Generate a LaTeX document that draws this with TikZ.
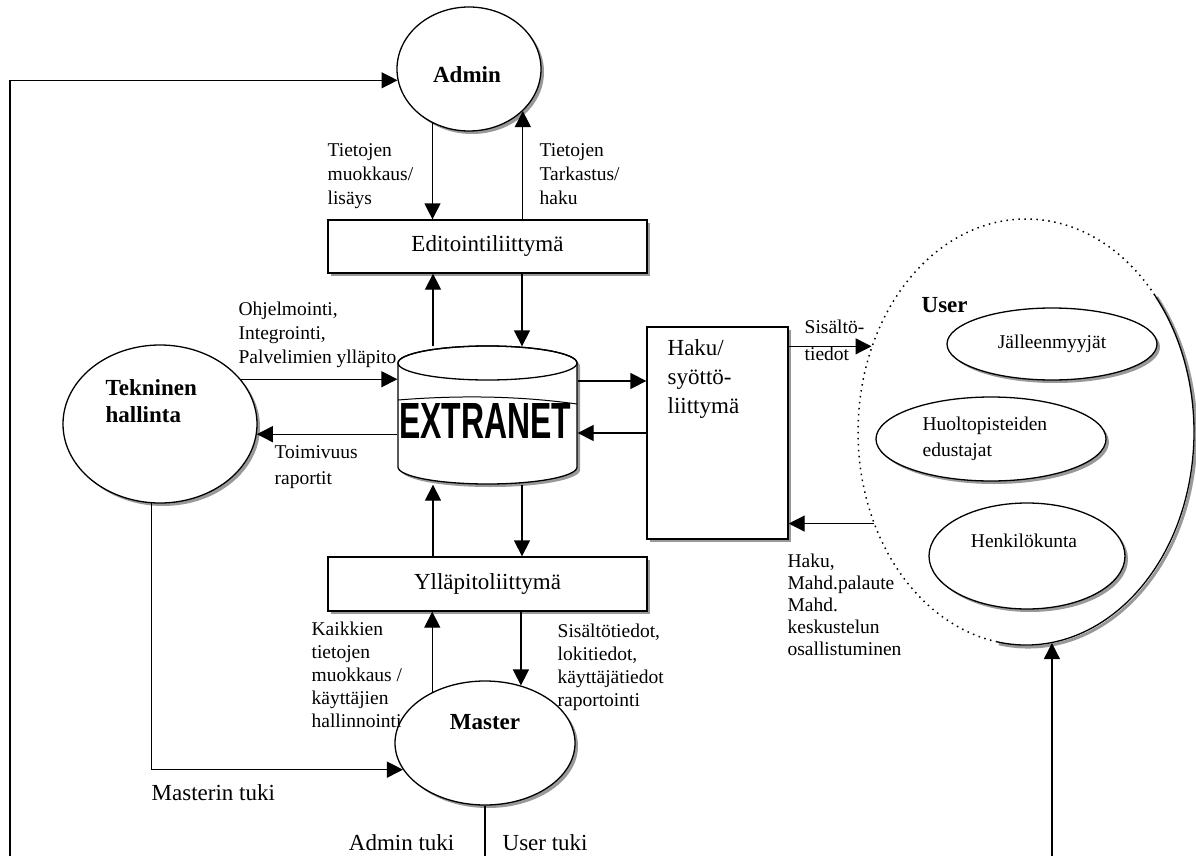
\documentclass[tikz,border=0pt]{standalone}
\usepackage{fontspec}
\setmainfont{Liberation Serif}
\newfontfamily\sansbold{Liberation Sans}
\usetikzlibrary{shapes.geometric,arrows.meta,shadows}
\begin{document}
\begin{tikzpicture}[x=1pt,y=1pt,
  line width=1.3pt,
  arr/.style={-{Triangle[length=16pt,width=16pt]}},
  shad/.style={drop shadow={shadow xshift=3pt,shadow yshift=-3pt,fill=black!40,opacity=1}},
  ell/.style={ellipse,draw,fill=white,shad,inner sep=0pt},
  boxx/.style={rectangle,draw,fill=white,shad,inner sep=0pt},
  lbl/.style={font=\fontsize{19.5}{24}\selectfont,align=left,inner sep=0pt,anchor=north west},
  big/.style={font=\fontsize{23}{28}\selectfont},
  bold/.style={font=\fontsize{23}{27}\selectfont\bfseries},
]
\useasboundingbox[fill=white] (0,0) rectangle (1196,-856);

% ---------- User group ----------
\node[ellipse,minimum width=336pt,minimum height=426pt,inner sep=0pt] (user) at (1026,-432) {};
\draw[black!40,line width=3pt] ([shift={(2,-2)}]user.center) ++(-100:168 and 213) arc[start angle=-100,end angle=40,x radius=168,y radius=213];
\draw (user.center) ++(-100:168 and 213) arc[start angle=-100,end angle=40,x radius=168,y radius=213];
\draw[line width=1.5pt,dash pattern=on 1.5pt off 4.5pt] (user.center) ++(40:168 and 213) arc[start angle=40,end angle=260,x radius=168,y radius=213];
\node[bold,anchor=west,inner sep=0pt] (usertxt) at (921,-305) {User};
\node[ell,minimum width=210pt,minimum height=72pt,font=\fontsize{19.5}{24}\selectfont] (jal) at (1052,-344) {Jälleenmyyjät};
\node[ell,minimum width=230pt,minimum height=84pt] (huo) at (991,-439) {};
\node[lbl] (huotxt) at (922,-416) {Huoltopisteiden\\[2pt]edustajat};
\node[ell,minimum width=196pt,minimum height=106pt] (hen) at (1027,-556) {};
\node[font=\fontsize{19.5}{24}\selectfont,inner sep=0pt] (hentxt) at (1024,-541) {Henkilökunta};

% ---------- main nodes ----------
\node[ell,minimum width=144pt,minimum height=124pt] (admin) at (469,-69) {};
\node[bold,inner sep=0pt] (admintxt) at (467,-75) {Admin};
\node[boxx,minimum width=319pt,minimum height=53pt,big] (edit) at (487.5,-246.5) {Editointiliittymä};
\node[boxx,minimum width=319pt,minimum height=54pt,big] (yll) at (487.5,-584) {Ylläpitoliittymä};
\node[boxx,minimum width=141pt,minimum height=212pt] (haku) at (717.5,-433) {};
\node[align=left,inner sep=0pt,anchor=north west,font=\fontsize{23}{29}\selectfont] (hakutxt) at (667,-339) {Haku/\\syöttö-\\liittymä};
\node[ell,minimum width=194pt,minimum height=158pt] (tek) at (160,-424) {};
\node[align=left,inner sep=0pt,anchor=north west,font=\fontsize{23}{27}\selectfont\bfseries] (tektxt) at (105,-379) {Tekninen\\hallinta};
\node[ell,minimum width=180pt,minimum height=124pt] (master) at (485,-743) {};
\node[bold,inner sep=0pt] (mastertxt) at (485,-722) {Master};

% ---------- EXTRANET cylinder ----------
\fill[black!40] (401,-366) -- (401,-470) arc[start angle=180,end angle=360,x radius=89.5,y radius=17] -- (580,-366) arc[start angle=0,end angle=180,x radius=89.5,y radius=17] -- cycle;
\filldraw[fill=white] (398,-363) -- (398,-467) arc[start angle=180,end angle=360,x radius=89.5,y radius=17] -- (577,-363) arc[start angle=0,end angle=180,x radius=89.5,y radius=17] -- cycle;
\draw (487.5,-363) ellipse[x radius=89.5,y radius=17];
\node[minimum width=179pt,minimum height=137pt,inner sep=0pt] (extranet) at (487.5,-415.5) {};
\draw[line width=1pt] (398,-400) .. controls (460,-395) and (520,-396) .. (577,-404);
\node[inner sep=0pt] (extxt) at (485,-421) {\resizebox{172pt}{35pt}{\sansbold\bfseries EXTRANET}};

% ---------- column coordinates ----------
\coordinate (cl) at ([xshift=-54.5pt]edit.south);
\coordinate (cr) at ([xshift=34.5pt]edit.south);
\coordinate (bl) at (10,-856);
\coordinate (bb) at (0,-856);
\coordinate (br) at (1053,-856);
\coordinate (hy1) at ([yshift=52pt]haku.west);

% ---------- connectors ----------
\draw[arr] (bl) |- (admin.189);
\draw[arr] (admin.236) -- (admin.236 |- edit.north);
\draw[arr] (admin.322 |- edit.north) -- (admin.322);
\draw[arr] (cl |- extranet.north) -- (cl |- edit.south);
\draw[arr] (cr |- edit.south) -- (cr |- extranet.north);
\draw[arr] (cr |- extranet.south) -- (cr |- yll.north);
\draw[arr] (cl |- yll.north) -- (cl |- extranet.south);
\draw[arr] (master.58 |- yll.south) -- (master.58);
\draw[arr] (master.136) -- (master.136 |- yll.south);
\draw[arr] (tek.29) -- (tek.29 -| extranet.west);
\draw[arr] (tek.354 -| extranet.west) -- (tek.354);
\draw[arr] (tek.264) |- (master.198);
\draw[arr] (hy1 -| extranet.east) -- (hy1);
\draw[arr] (haku.west) -- (haku.west -| extranet.east);
\draw[arr] (haku.east |- user.151) -- (user.151);
\draw[arr] (user.211) -- (user.211 -| haku.east);
\draw (master.south) -- (master.south |- bb);
\draw[arr] (user.277 |- br) -- (user.277);

% ---------- labels ----------
\node[lbl] (la1) at (327,-143) {Tietojen\\muokkaus/\\lisäys};
\node[lbl] (la2) at (539,-143) {Tietojen\\Tarkastus/\\haku};
\node[lbl] (lt1) at (238,-301) {Ohjelmointi,\\Integrointi,\\Palvelimien ylläpito};
\node[lbl] (lt2) at (274,-445) {Toimivuus\\[2pt]raportit};
\node[lbl] (ls) at (804,-319) {Sisältö-\\[3pt]tiedot};
\node[lbl,font=\fontsize{19.5}{22}\selectfont] (lh) at (787,-553) {Haku,\\Mahd.palaute\\Mahd.\\keskustelun\\osallistuminen};
\node[lbl,font=\fontsize{19.5}{23}\selectfont] (lk) at (311,-621) {Kaikkien\\tietojen\\muokkaus /\\käyttäjien\\hallinnointi};
\node[lbl,font=\fontsize{19.5}{23}\selectfont] (lr) at (557,-623) {Sisältötiedot,\\lokitiedot,\\käyttäjätiedot\\raportointi};
\node[big,anchor=west,inner sep=0pt] (mtuki) at (151,-793) {Masterin tuki};
\node[big,anchor=base east,inner sep=0pt] (atuki) at (455,-850) {Admin tuki};
\node[big,anchor=base west,inner sep=0pt] (utuki) at (502,-850) {User tuki};
\end{tikzpicture}
\end{document}
